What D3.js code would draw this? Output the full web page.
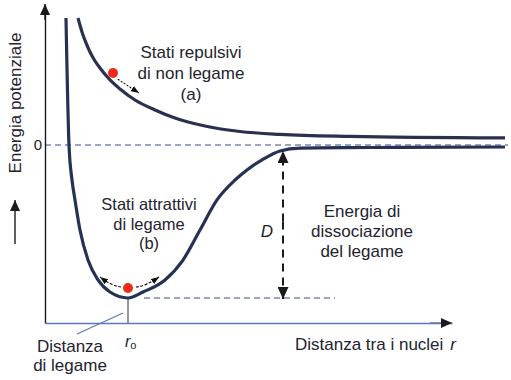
<!DOCTYPE html>
<html><head><meta charset="utf-8">
<script src="https://cdn.jsdelivr.net/npm/d3@7"></script>
<style>
html,body{margin:0;padding:0;background:#fff;}
svg{display:block;font-family:"Liberation Sans",Arial,Helvetica,sans-serif;}
</style></head>
<body>
<svg id="c" width="511" height="380"></svg>
<script>
// ---- data (r in arbitrary units, E in units of D) ----
const morseR = [0.525, 0.6, 0.675, 0.75, 0.875, 1.075, 1.325, 1.625, 2.075, 2.45, 3.0, 3.45, 3.875, 4.3, 4.75, 5.05, 5.425, 5.875, 6.375, 7.5, 8.875, 11.5];
const morseE = [0.83, 0.0, -0.229, -0.359, -0.556, -0.752, -0.882, -0.961, -1.0, -0.961, -0.882, -0.752, -0.556, -0.359, -0.229, -0.163, -0.098, -0.039, -0.02, -0.017, -0.016, -0.013];
const repR = [0.825, 0.925, 1.025, 1.125, 1.25, 1.375, 1.625, 1.875, 2.25, 2.75, 3.25, 4.0, 4.875, 5.875, 7.625, 11.5];
const repE = [0.83, 0.739, 0.667, 0.608, 0.549, 0.503, 0.425, 0.366, 0.294, 0.229, 0.176, 0.124, 0.088, 0.069, 0.056, 0.046];
const yTicks = [0];
const yTickLabels = ["0"];
const r0 = 2.075, Emin = -1.0, Ediss = 0.0;
const yLabel = "Energia potenziale";
const xLabel = "Distanza tra i nuclei";
const labelA = ["Stati repulsivi", "di non legame", "(a)"];
const labelB = ["Stati attrattivi", "di legame", "(b)"];
const labelD = ["Energia di", "dissociazione", "del legame"];
const labelR0 = ["Distanza", "di legame"];

const svg = d3.select("#c");
const x = d3.scaleLinear().domain([0, 10.175]).range([45, 452]);
const y = d3.scaleLinear().domain([-1.1634, 0.915]).range([323, 5]);

const defs = svg.append("defs");
function marker(id, w, h, color){
  defs.append("marker").attr("id", id).attr("viewBox", `0 0 ${h} ${w}`)
    .attr("refX", h).attr("refY", w/2).attr("markerWidth", h).attr("markerHeight", w)
    .attr("markerUnits", "userSpaceOnUse").attr("orient", "auto")
    .append("path").attr("d", `M0,0L${h},${w/2}L0,${w}Z`).attr("fill", color);
}
marker("axArrow", 10, 11, "#1a1a1a");
marker("dArrow", 11, 12, "#1a1a1a");
marker("smArrow", 6, 8, "#111");

const dashCol = "#7a86b8";
// zero dashed line
svg.append("line").attr("x1", x(0)).attr("x2", 508).attr("y1", y(0)).attr("y2", y(0))
  .attr("stroke", dashCol).attr("stroke-width", 1.3).attr("stroke-dasharray", "6,4");
// minimum dashed line
svg.append("line").attr("x1", x(r0) + 16).attr("x2", 335).attr("y1", y(Emin)).attr("y2", y(Emin))
  .attr("stroke", dashCol).attr("stroke-width", 1.3).attr("stroke-dasharray", "6,4");

// axes via d3
const yAxis = d3.axisLeft(y).tickValues(yTicks).tickFormat((d,i)=>yTickLabels[i]).tickSize(0).tickSizeOuter(0).tickPadding(3);
const gy = svg.append("g").attr("transform", `translate(${x(0)},0)`).call(yAxis);
gy.select(".domain").attr("stroke", "#1a1a1a").attr("stroke-width", 1.4);
gy.selectAll("text").attr("font-size", 15).attr("fill", "#222").attr("font-family", "Liberation Sans, Arial, sans-serif");
const xAxis = d3.axisBottom(x).tickValues([]).tickSizeOuter(0);
const gx = svg.append("g").attr("transform", `translate(0,${y.range()[0]})`).call(xAxis);
gx.select(".domain").attr("stroke", "#5a78b5").attr("stroke-width", 1.5);
// arrowheads on axes
svg.append("line").attr("x1", x(0)).attr("x2", x(0)).attr("y1", 20).attr("y2", y.range()[1] - 1)
  .attr("stroke", "#1a1a1a").attr("stroke-width", 1.4).attr("marker-end", "url(#axArrow)");
svg.append("line").attr("x1", 430).attr("x2", x.range()[1]).attr("y1", y.range()[0]).attr("y2", y.range()[0])
  .attr("stroke", "#5a78b5").attr("stroke-width", 1.5).attr("marker-end", "url(#axArrow)");

// vertical r0 line
svg.append("line").attr("x1", x(r0)).attr("x2", x(r0)).attr("y1", y(Emin)).attr("y2", y.range()[0])
  .attr("stroke", "#555").attr("stroke-width", 1.2);
// leader line
svg.append("line").attr("x1", 77).attr("y1", 334).attr("x2", x(r0) - 5).attr("y2", 313)
  .attr("stroke", "#5a78b5").attr("stroke-width", 1.1);

// curves
const line = d3.line().x(d => x(d[0])).y(d => y(d[1])).curve(d3.curveMonotoneX);
svg.append("path").datum(repR.map((r,i)=>[r, repE[i]])).attr("d", line)
  .attr("fill", "none").attr("stroke", "#2a3150").attr("stroke-width", 3.2);
svg.append("path").datum(morseR.map((r,i)=>[r, morseE[i]])).attr("d", line)
  .attr("fill", "none").attr("stroke", "#263255").attr("stroke-width", 3.2);

// D arrow
const dx = x(5.95);
svg.append("line").attr("x1", dx).attr("x2", dx).attr("y1", y(-0.5)).attr("y2", y(Ediss) + 6)
  .attr("stroke", "#1a1a1a").attr("stroke-width", 2).attr("stroke-dasharray", "8,6").attr("marker-end", "url(#dArrow)");
svg.append("line").attr("x1", dx).attr("x2", dx).attr("y1", y(-0.5)).attr("y2", y(Emin) + 1)
  .attr("stroke", "#1a1a1a").attr("stroke-width", 2).attr("stroke-dasharray", "8,6").attr("marker-end", "url(#dArrow)");

// particles
svg.append("circle").attr("cx", x(1.7)).attr("cy", y(0.47)).attr("r", 5).attr("fill", "#ee2a1c");
svg.append("path").attr("d", `M${x(1.82)},${y(0.43)} L${x(2.35)},${y(0.34)}`)
  .attr("stroke", "#111").attr("stroke-width", 1.1).attr("stroke-dasharray", "2,1.5").attr("fill", "none").attr("marker-end", "url(#smArrow)");
const vx = x(r0), vy = y(Emin) - 10;
svg.append("circle").attr("cx", vx).attr("cy", vy).attr("r", 5).attr("fill", "#ee2a1c");
svg.append("path").attr("d", `M${vx-7},${vy-1} Q${vx-16},${vy-2} ${vx-28},${vy-11}`)
  .attr("stroke", "#111").attr("stroke-width", 1.1).attr("stroke-dasharray", "3,1.5").attr("fill", "none").attr("marker-end", "url(#smArrow)");
svg.append("path").attr("d", `M${vx+8},${vy-1} Q${vx+18},${vy-2} ${vx+31},${vy-11}`)
  .attr("stroke", "#111").attr("stroke-width", 1.1).attr("stroke-dasharray", "3,1.5").attr("fill", "none").attr("marker-end", "url(#smArrow)");

// texts
const tcol = "#23232e";
function block(lines, cx, y0, dy, size){
  lines.forEach((t,i)=> svg.append("text").attr("x", cx).attr("y", y0 + i*dy)
    .attr("text-anchor", "middle").attr("font-size", size).attr("fill", tcol).text(t));
}
block(labelA, 191, 58, 21, 17);
block(labelB, 149, 210, 19.5, 16.5);
block(labelD, 362, 217, 20, 17);
block(labelR0, 70, 352, 19, 17);

svg.append("text").attr("transform", "translate(21,103) rotate(-90)").attr("text-anchor", "middle")
  .attr("font-size", 17).attr("fill", tcol).text(yLabel);
// small up arrow
svg.append("line").attr("x1", 15).attr("x2", 15).attr("y1", 244).attr("y2", 200)
  .attr("stroke", "#1a1a1a").attr("stroke-width", 1.4).attr("marker-end", "url(#axArrow)");

const xl = svg.append("text").attr("x", 295).attr("y", 350).attr("font-size", 17).attr("fill", tcol);
xl.append("tspan").text(xLabel);
xl.append("tspan").attr("font-style", "italic").attr("dx", 7).text("r");

svg.append("text").attr("x", dx - 16).attr("y", 237).attr("text-anchor", "middle")
  .attr("font-size", 17).attr("font-style", "italic").attr("fill", tcol).text("D");

const r0t = svg.append("text").attr("x", x(r0) - 3).attr("y", 347).attr("font-size", 16).attr("fill", tcol);
r0t.append("tspan").attr("font-style", "italic").text("r");
r0t.append("tspan").attr("font-size", 11).attr("dy", 2).text("o");
</script>
</body></html>
